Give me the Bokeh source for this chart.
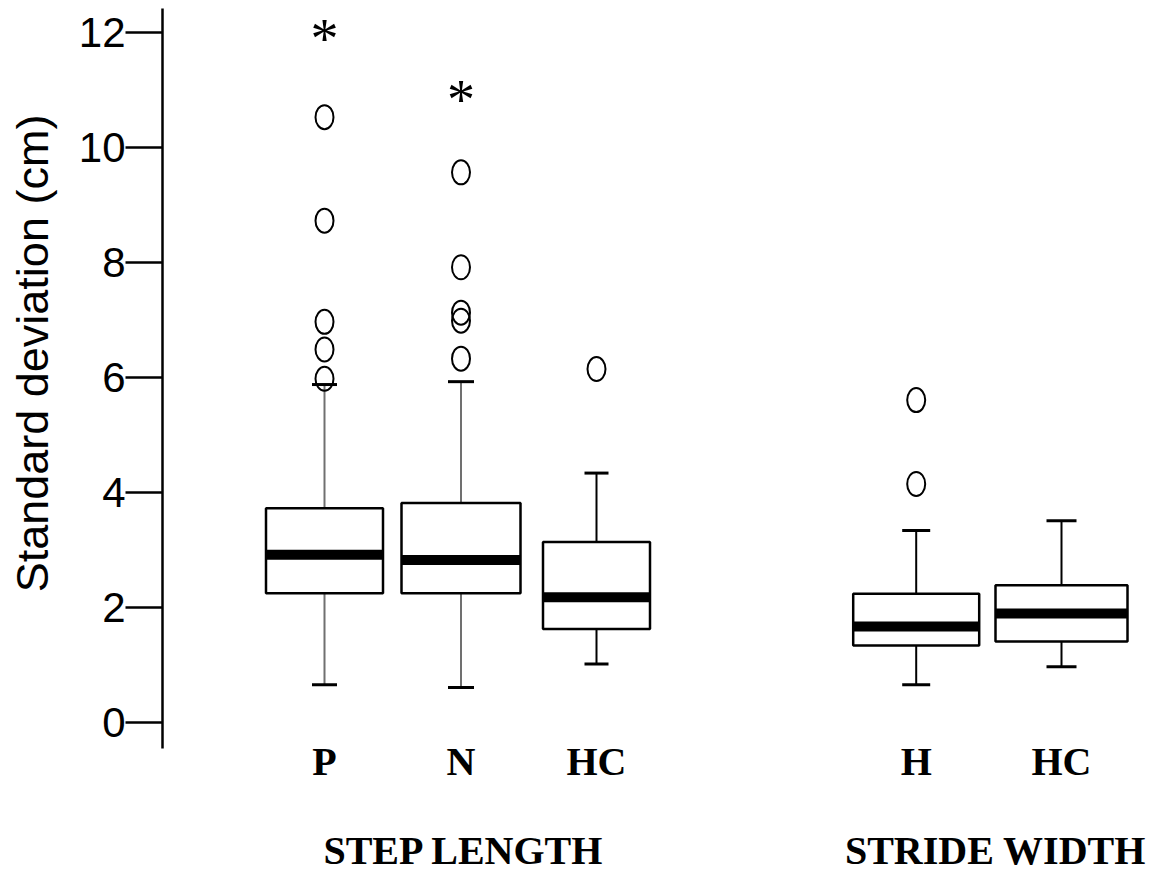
from bokeh.plotting import figure
from bokeh.models import Range1d, LinearAxis, FixedTicker, ColumnDataSource
from bokeh.core.properties import value
from bokeh.embed import file_html
from bokeh.resources import INLINE

# ---------------- data ----------------
categories = ["P", "N", "HC", "H", "HC"]
groups = ["STEP LENGTH", "STRIDE WIDTH"]
y_ticks = [0, 2, 4, 6, 8, 10, 12]

whisker_low = [0.66, 0.61, 1.02, 0.66, 0.97]
q1 = [2.25, 2.25, 1.63, 1.34, 1.41]
median = [2.92, 2.83, 2.18, 1.67, 1.90]
q3 = [3.73, 3.82, 3.14, 2.24, 2.39]
whisker_high = [5.88, 5.93, 4.34, 3.34, 3.51]

outliers_P = [10.53, 8.73, 6.97, 6.49, 5.98]
outliers_N = [9.57, 7.92, 7.13, 6.99, 6.33]
outliers_HC_step = [6.15]
outliers_H = [5.61, 4.15]
outliers_HC_stride = []
outliers = [outliers_P, outliers_N, outliers_HC_step, outliers_H, outliers_HC_stride]

extremes_P = [11.99]
extremes_N = [10.94]
extremes = [extremes_P, extremes_N, [], [], []]

# ---------------- positions / styles ----------------
box_x = [1.62, 2.985, 4.34, 7.537, 8.99]
box_w = [1.17, 1.19, 1.07, 1.26, 1.32]
cap_w = [0.25, 0.26, 0.24, 0.28, 0.30]
group_x = [3.015, 8.33]
stem_color = ["#707070", "#707070", "black", "black", "black"]

p = figure(width=1163, height=876, x_range=Range1d(0, 10.01), y_range=Range1d(-0.45, 12.42),
           min_border_left=162, min_border_right=0, min_border_top=8, min_border_bottom=128,
           toolbar_location=None, output_backend="svg", x_axis_location=None)
p.outline_line_color = None
p.xgrid.visible = False
p.ygrid.visible = False
p.background_fill_color = "white"
p.border_fill_color = "white"

# y axis
ya = p.yaxis[0]
ya.ticker = FixedTicker(ticks=y_ticks)
ya.major_tick_out = 37
ya.major_tick_in = 0
ya.minor_tick_out = 0
ya.minor_tick_in = 0
ya.axis_line_width = 2.5
ya.major_tick_line_width = 2.5
ya.axis_line_color = "black"
ya.major_tick_line_color = "black"
ya.major_label_text_font = "Liberation Sans"
ya.major_label_text_font_size = "42px"
ya.major_label_text_color = "black"
ya.major_label_standoff = 0
ya.axis_label = "\u00a0" * 4 + "Standard deviation (cm)"
ya.axis_label_text_font = "Liberation Sans"
ya.axis_label_text_font_size = "45px"
ya.axis_label_text_font_style = "normal"
ya.axis_label_text_color = "black"
ya.axis_label_standoff = 18

# category axis
ax1 = LinearAxis(ticker=FixedTicker(ticks=box_x),
                 major_label_overrides={x: c for x, c in zip(box_x, categories)})
ax2 = LinearAxis(ticker=FixedTicker(ticks=group_x),
                 major_label_overrides={x: g for x, g in zip(group_x, groups)})
for ax in (ax1, ax2):
    ax.axis_line_color = None
    ax.major_tick_line_color = None
    ax.minor_tick_line_color = None
    ax.major_tick_out = 0
    ax.major_tick_in = 0
    ax.minor_tick_out = 0
    ax.minor_tick_in = 0
    ax.major_label_text_font = "Liberation Serif"
    ax.major_label_text_font_style = "bold"
    ax.major_label_text_font_size = "40px"
    ax.major_label_text_color = "black"
ax1.major_label_standoff = -10
ax2.major_label_standoff = 41
p.add_layout(ax1, "below")
p.add_layout(ax2, "below")

# boxes
src = ColumnDataSource(dict(
    x=box_x, w=box_w, q1=q1, q3=q3, med=median, lo=whisker_low, hi=whisker_high,
    x0=[x - w / 2 for x, w in zip(box_x, box_w)], x1=[x + w / 2 for x, w in zip(box_x, box_w)],
    c0=[x - c / 2 for x, c in zip(box_x, cap_w)], c1=[x + c / 2 for x, c in zip(box_x, cap_w)],
    sc=stem_color))

p.segment(x0="x", x1="x", y0="q3", y1="hi", source=src, line_color="sc", line_width=2)
p.segment(x0="x", x1="x", y0="q1", y1="lo", source=src, line_color="sc", line_width=2)
p.segment(x0="c0", x1="c1", y0="hi", y1="hi", source=src, line_color="black", line_width=3)
p.segment(x0="c0", x1="c1", y0="lo", y1="lo", source=src, line_color="black", line_width=3)
p.vbar(x="x", width="w", bottom="q1", top="q3", source=src, fill_color="white",
       line_color="black", line_width=2.5)
p.segment(x0="x0", x1="x1", y0="med", y1="med", source=src, line_color="black",
          line_width=10, line_cap="butt")

# outliers
ox, oy = [], []
for x, vals in zip(box_x, outliers):
    for v in vals:
        ox.append(x)
        oy.append(v)
p.ellipse(x=ox, y=oy, width=18, height=24, width_units="screen", height_units="screen",
          fill_color=None, line_color="black", line_width=2)

ex, ey = [], []
for x, vals in zip(box_x, extremes):
    for v in vals:
        ex.append(x)
        ey.append(v)
p.text(x=ex, y=ey, text=["*"] * len(ex), text_font=value("Liberation Serif"),
       text_font_size="56px", text_font_style="normal", text_align="center",
       text_baseline="alphabetic", y_offset=6, text_color="black")

open("out.html", "w").write(file_html(p, INLINE))
